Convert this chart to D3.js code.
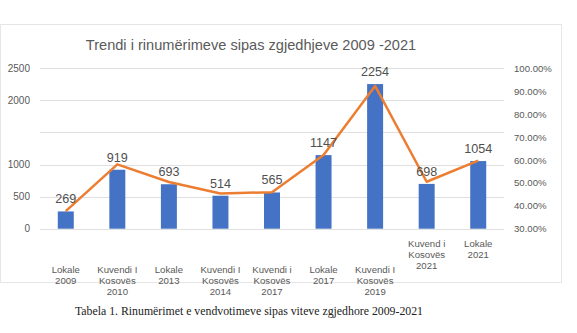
<!DOCTYPE html>
<html>
<head>
<meta charset="utf-8">
<script src="https://cdn.jsdelivr.net/npm/d3@7"></script>
<style>
  html, body { margin: 0; padding: 0; background: #fff; }
  svg { display: block; }
</style>
</head>
<body>
<svg id="chart" width="577" height="333"></svg>
<script>
// ---- data ----
const categories = [
  ["Lokale", "2009"],
  ["Kuvendi I", "Kosovës", "2010"],
  ["Lokale", "2013"],
  ["Kuvendi I", "Kosovës", "2014"],
  ["Kuvendi i", "Kosovës", "2017"],
  ["Lokale", "2017"],
  ["Kuvendi I", "Kosovës", "2019"],
  ["Kuvend i", "Kosovës", "2021"],
  ["Lokale", "2021"]
];
const recounts = [269, 919, 693, 514, 565, 1147, 2254, 698, 1054];
const percentages = [37.7, 58.1, 50.4, 45.4, 45.9, 62.2, 92.3, 50.5, 59.7];
const leftTicks = [0, 500, 1000, 1500, 2000, 2500];
const leftTickLabels = ["0", "500", "1000", "", "2000", "2500"];
const rightTicks = [30, 40, 50, 60, 70, 80, 90, 100];
const titleText = "Trendi i rinumërimeve sipas zgjedhjeve 2009 -2021";
const captionText = "Tabela 1. Rinumërimet e vendvotimeve sipas viteve zgjedhore 2009-2021";

// ---- drawing ----
const svg = d3.select("#chart");
const font = "Arial, 'Liberation Sans', sans-serif";
const textColor = "#595959";

// outer frame
svg.append("rect")
  .attr("x", 0.5).attr("y", 24.5)
  .attr("width", 561).attr("height", 258)
  .attr("fill", "#fff").attr("stroke", "#e6e6e6").attr("stroke-width", 1);

const plotLeft = 40, plotRight = 504, plotTop = 68.3, plotBottom = 228.7;

const x = d3.scaleBand()
  .domain(d3.range(categories.length))
  .range([plotLeft, plotRight])
  .paddingInner(0.69)
  .paddingOuter(0.345);

const y = d3.scaleLinear().domain([0, 2500]).range([plotBottom, plotTop]);
const y2 = d3.scaleLinear().domain([30, 100]).range([plotBottom, plotTop]);

// title
svg.append("text")
  .attr("x", 251).attr("y", 50)
  .attr("text-anchor", "middle")
  .attr("font-family", font).attr("font-size", 14.6)
  .attr("fill", "#5a5a5a")
  .text(titleText);

// gridlines
svg.append("g")
  .selectAll("line")
  .data(leftTicks)
  .join("line")
  .attr("x1", plotLeft).attr("x2", plotRight)
  .attr("y1", d => Math.round(y(d)) + 0.5)
  .attr("y2", d => Math.round(y(d)) + 0.5)
  .attr("stroke", "#e0e0e0").attr("stroke-width", 1);

// left axis
const leftAxis = d3.axisLeft(y)
  .tickValues(leftTicks)
  .tickFormat((d, i) => leftTickLabels[i])
  .tickSize(0).tickPadding(10);
const gl = svg.append("g").attr("transform", `translate(${plotLeft},0)`).call(leftAxis);
gl.select(".domain").remove();
gl.selectAll("text")
  .attr("font-family", font).attr("font-size", 10)
  .attr("fill", textColor);

// right axis
const rightAxis = d3.axisRight(y2)
  .tickValues(rightTicks)
  .tickFormat(d => d.toFixed(2) + "%")
  .tickSize(0).tickPadding(10);
const gr = svg.append("g").attr("transform", `translate(${plotRight},0)`).call(rightAxis);
gr.select(".domain").remove();
gr.selectAll("text")
  .attr("font-family", font).attr("font-size", 9.6)
  .attr("fill", textColor);

// bars
svg.append("g")
  .selectAll("rect")
  .data(recounts)
  .join("rect")
  .attr("x", (d, i) => x(i))
  .attr("y", d => y(d))
  .attr("width", x.bandwidth())
  .attr("height", d => y(0) - y(d))
  .attr("fill", "#4472C4");

// line
const line = d3.line()
  .x((d, i) => x(i) + x.bandwidth() / 2)
  .y(d => y2(d));
svg.append("path")
  .datum(percentages)
  .attr("d", line)
  .attr("fill", "none")
  .attr("stroke", "#ED7D31")
  .attr("stroke-width", 2.5)
  .attr("stroke-linejoin", "round");

// data labels
svg.append("g")
  .selectAll("text")
  .data(recounts)
  .join("text")
  .attr("x", (d, i) => x(i) + x.bandwidth() / 2)
  .attr("y", d => y(d) - 8)
  .attr("text-anchor", "middle")
  .attr("font-family", font).attr("font-size", 12.6)
  .attr("fill", "#505050")
  .text(d => d);

// category labels (last two sit higher, as in the original)
const catG = svg.append("g");
categories.forEach((lines, i) => {
  const top = i >= 7 ? 247 : 273;
  const t = catG.append("text")
    .attr("x", x(i) + x.bandwidth() / 2)
    .attr("y", top)
    .attr("text-anchor", "middle")
    .attr("font-family", font).attr("font-size", 9.6)
    .attr("fill", textColor);
  lines.forEach((ln, k) => {
    t.append("tspan")
      .attr("x", x(i) + x.bandwidth() / 2)
      .attr("y", top + k * 11)
      .text(ln);
  });
});

// caption
svg.append("text")
  .attr("x", 249).attr("y", 315)
  .attr("text-anchor", "middle")
  .attr("font-family", "'Liberation Serif', 'Times New Roman', serif")
  .attr("font-size", 11.8)
  .attr("fill", "#222")
  .text(captionText);
</script>
</body>
</html>
